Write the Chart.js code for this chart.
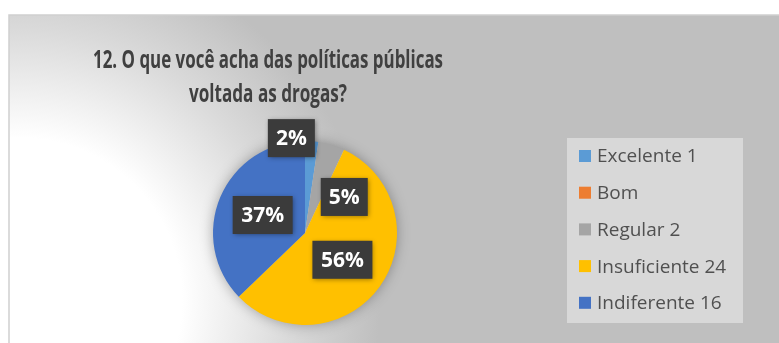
<!DOCTYPE html>
<html>
<head>
<meta charset="utf-8">
<script src="https://cdn.jsdelivr.net/npm/chart.js@4/dist/chart.umd.min.js"></script>
<style>
  body { margin: 0; background: #fff; }
  canvas { display: block; }
</style>
</head>
<body>
<canvas id="chart" width="779" height="343"></canvas>
<script>
var categories = ['Excelente 1', 'Bom', 'Regular 2', 'Insuficiente 24', 'Indiferente 16'];
var values = [1, 0, 2, 24, 16];
var colors = ['#5B9BD5', '#ED7D31', '#A5A5A5', '#FFC000', '#4472C4'];
var titleLines = ['12. O que você acha das políticas públicas', 'voltada as drogas?'];

// label nudges (px) from the slice middle, like Excel moved them
var labelShift = [[-17, -49], [0, 0], [26, 8], [0, 0], [0, 0]];

var total = values.reduce(function (a, b) { return a + b; }, 0);

var backdrop = {
    id: 'backdrop',
    beforeDraw: function (chart) {
        var ctx = chart.ctx;
        ctx.save();
        ctx.fillStyle = '#ffffff';
        ctx.fillRect(0, 0, chart.width, chart.height);
        var g = ctx.createRadialGradient(20, 300, 0, 20, 300, 360);
        g.addColorStop(0, '#ffffff');
        g.addColorStop(0.45, '#ffffff');
        g.addColorStop(0.75, '#dadada');
        g.addColorStop(1, '#bfbfbf');
        ctx.fillStyle = g;
        ctx.fillRect(9, 15, chart.width - 9, chart.height - 15);
        ctx.strokeStyle = '#d0d0d0';
        ctx.lineWidth = 1.5;
        ctx.beginPath();
        ctx.moveTo(9, chart.height);
        ctx.lineTo(9, 15);
        ctx.lineTo(chart.width, 15);
        ctx.stroke();
        ctx.restore();
    },
    beforeDatasetsDraw: function (chart) {
        var arc = chart.getDatasetMeta(0).data[0];
        var ctx = chart.ctx;
        ctx.save();
        ctx.shadowColor = 'rgba(0,0,0,0.35)';
        ctx.shadowBlur = 14;
        ctx.fillStyle = '#cccccc';
        ctx.beginPath();
        ctx.arc(arc.x, arc.y, arc.outerRadius - 1, 0, Math.PI * 2);
        ctx.fill();
        ctx.restore();
    },
    afterDraw: function (chart) {
        var ctx = chart.ctx;
        ctx.save();

        // title
        ctx.fillStyle = '#404040';
        ctx.textAlign = 'center';
        ctx.textBaseline = 'alphabetic';
        ctx.font = 'bold 25px "Open Sans"';
        ctx.fillText(titleLines[0], 268, 68, 350);
        ctx.fillText(titleLines[1], 268, 102, 158);

        // legend
        ctx.fillStyle = '#d8d8d8';
        ctx.fillRect(567, 138, 176, 185);
        ctx.font = '19px "Open Sans"';
        ctx.textAlign = 'left';
        ctx.textBaseline = 'middle';
        categories.forEach(function (c, i) {
            var y = 156 + i * 36.7;
            ctx.fillStyle = colors[i];
            ctx.fillRect(579, y - 6, 12, 12);
            ctx.fillStyle = '#505050';
            ctx.fillText(c, 597, y + 1, 138);
        });

        // percentage labels
        var meta = chart.getDatasetMeta(0);
        ctx.font = 'bold 21px "Open Sans"';
        ctx.textAlign = 'center';
        meta.data.forEach(function (arc, i) {
            if (!values[i]) return;
            var p = arc.tooltipPosition();
            var x = p.x + labelShift[i][0];
            var y = p.y + labelShift[i][1];
            var txt = Math.round(values[i] / total * 100) + '%';
            var w = txt.length > 2 ? 60 : 47;
            ctx.save();
            ctx.shadowColor = 'rgba(0,0,0,0.4)';
            ctx.shadowBlur = 5;
            ctx.shadowOffsetX = 1;
            ctx.shadowOffsetY = 1;
            ctx.fillStyle = '#3b3b3b';
            ctx.fillRect(x - w / 2, y - 19, w, 38);
            ctx.restore();
            ctx.fillStyle = '#ffffff';
            ctx.fillText(txt, x, y + 1, w - 14);
        });
        ctx.restore();
    }
};

new Chart(document.getElementById('chart'), {
    type: 'pie',
    data: {
        labels: categories,
        datasets: [{
            data: values,
            backgroundColor: colors,
            borderWidth: 0
        }]
    },
    options: {
        responsive: false,
        animation: false,
        layout: { padding: { left: 213, right: 382, top: 141, bottom: 18 } },
        plugins: {
            legend: { display: false },
            title: { display: false },
            tooltip: { enabled: false }
        }
    },
    plugins: [backdrop]
});
</script>
</body>
</html>
